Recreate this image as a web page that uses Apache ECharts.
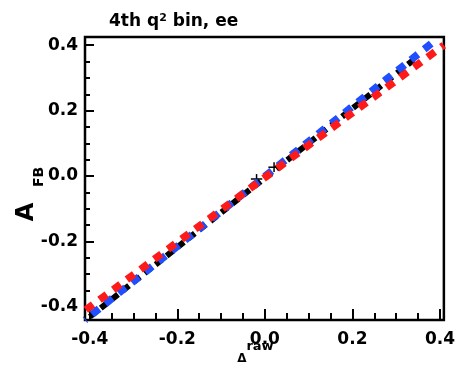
<!DOCTYPE html>
<html><head><meta charset="utf-8">
<script src="https://cdn.jsdelivr.net/npm/echarts@6/dist/echarts.min.js"></script>
<style>html,body{margin:0;padding:0;background:#fff}#c{width:458px;height:375px}</style>
</head><body><div id="c"></div>
<script>
// ---- data ----
const xRange = [-0.411, 0.409];
const yRange = [-0.44, 0.425];
const majorTicks = [-0.4, -0.2, 0.0, 0.2, 0.4];
const minorTicks = [-0.35, -0.3, -0.25, -0.15, -0.1, -0.05, 0.05, 0.1, 0.15, 0.25, 0.3, 0.35];
const blackLine = [[-0.40, -0.43], [0.34, 0.355]];
const blueLine = [[-0.411, -0.44], [0.384, 0.409]];
const redLine = [[-0.409, -0.409], [0.409, 0.40]];
// points with errors: [x, y, xErr, yErr]
const blackPoints = [[-0.019, -0.009, 0.013, 0.015], [0.021, 0.027, 0.013, 0.015]];
const titleText = '4th q{sup|2} bin, ee';

const FONT = 'DejaVu Sans';
const chart = echarts.init(document.getElementById('c'));
const fmt = v => v.toFixed(1);
function mkAxis(range, pos, major) {
  const base = {
    type: 'value', min: range[0], max: range[1], position: pos,
    axisLine: {show: false, onZero: false},
    splitLine: {show: false}
  };
  if (major) {
    return Object.assign(base, {
      axisTick: {show: true, inside: true, length: pos === 'bottom' ? 11 : 9, customValues: majorTicks,
        lineStyle: {color: '#000', width: 2}},
      axisLabel: {show: true, customValues: majorTicks, formatter: fmt, color: '#000',
        fontFamily: FONT, fontWeight: 'bold', fontSize: 17, margin: pos === 'bottom' ? 11 : 7}
    });
  }
  return Object.assign(base, {
    axisTick: {show: true, inside: true, length: pos === 'bottom' ? 7 : 5, customValues: minorTicks,
      lineStyle: {color: '#000', width: 2}},
    axisLabel: {show: false}
  });
}
const option = {
  animation: false,
  backgroundColor: '#fff',
  grid: {left: 85, right: 9, top: 37, bottom: 55, show: true, borderColor: '#000', borderWidth: 2.5, containLabel: false},
  xAxis: [mkAxis(xRange, 'bottom', true), mkAxis(xRange, 'bottom', false)],
  yAxis: [mkAxis(yRange, 'left', true), mkAxis(yRange, 'left', false)],
  title: {
    text: titleText, left: 104, top: 8,
    textStyle: {fontFamily: FONT, fontWeight: 'bold', fontSize: 17, color: '#000',
      rich: {sup: {fontFamily: FONT, fontWeight: 'bold', fontSize: 11, color: '#000', verticalAlign: 'top', lineHeight: 10}}}
  },
  graphic: [
    {type: 'text', x: 27, y: 212, rotation: Math.PI / 2,
      style: {text: 'A', fontFamily: FONT, fontWeight: 'bold', fontSize: 24, fill: '#000', align: 'center', verticalAlign: 'middle'}},
    {type: 'text', x: 39, y: 177, rotation: Math.PI / 2,
      style: {text: 'FB', fontFamily: FONT, fontWeight: 'bold', fontSize: 14, fill: '#000', align: 'center', verticalAlign: 'middle'}},
    {type: 'text', x: 242, y: 359,
      style: {text: 'Δ', fontFamily: FONT, fontWeight: 'bold', fontSize: 12, fill: '#000', align: 'center', verticalAlign: 'middle'}},
    {type: 'text', x: 260, y: 347,
      style: {text: 'raw', fontFamily: FONT, fontWeight: 'bold', fontSize: 13, fill: '#000', align: 'center', verticalAlign: 'middle'}}
  ],
  series: [
    {type: 'line', data: blackLine, symbol: 'none', lineStyle: {color: '#000', width: 6, type: [8, 6]}, z: 2},
    {type: 'custom', data: blackPoints, z: 3,
      renderItem: function (params, api) {
        const x = api.value(0), y = api.value(1), ex = api.value(2), ey = api.value(3);
        const a = api.coord([x - ex, y]), b = api.coord([x + ex, y]);
        const c = api.coord([x, y - ey]), d = api.coord([x, y + ey]);
        return {type: 'group', children: [
          {type: 'line', shape: {x1: a[0], y1: a[1], x2: b[0], y2: b[1]}, style: {stroke: '#000', lineWidth: 1.5}},
          {type: 'line', shape: {x1: c[0], y1: c[1], x2: d[0], y2: d[1]}, style: {stroke: '#000', lineWidth: 1.5}}
        ]};
      }},
    {type: 'line', data: blueLine, symbol: 'none', lineStyle: {color: '#1f4fff', width: 7.5, type: [9, 8], dashOffset: 8}, z: 4},
    {type: 'line', data: redLine, symbol: 'none', lineStyle: {color: '#ff1a1a', width: 7.5, type: [9, 8]}, z: 5}
  ]
};
chart.setOption(option);
</script></body></html>
